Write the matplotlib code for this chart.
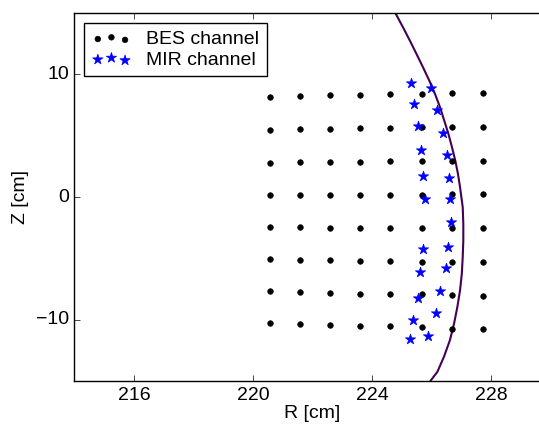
import matplotlib
matplotlib.use("Agg")
import matplotlib.pyplot as plt

# BES channel grid (8 columns x 8 rows), R in cm
bes_r_cols = [220.57, 221.58, 222.59, 223.60, 224.61, 225.67, 226.70, 227.72]
bes_z_rows = [
    [8.17, 8.25, 8.28, 8.33, 8.36, 8.41, 8.47, 8.50],
    [5.49, 5.54, 5.54, 5.59, 5.59, 5.67, 5.73, 5.73],
    [2.80, 2.86, 2.86, 2.86, 2.91, 2.94, 2.97, 2.97],
    [0.18, 0.18, 0.18, 0.18, 0.18, 0.18, 0.23, 0.23],
    [-2.46, -2.46, -2.50, -2.50, -2.50, -2.50, -2.50, -2.50],
    [-5.08, -5.14, -5.14, -5.19, -5.19, -5.27, -5.27, -5.33],
    [-7.68, -7.74, -7.79, -7.87, -7.87, -7.93, -8.01, -8.07],
    [-10.26, -10.37, -10.45, -10.50, -10.55, -10.63, -10.75, -10.80],
]

# MIR channels
mir_r = [225.30, 225.97, 225.42, 226.17, 225.56, 226.38, 225.64, 226.52,
         225.70, 226.59, 225.77, 226.63, 226.65, 225.70, 226.56, 225.63,
         226.48, 225.54, 226.30, 225.38, 226.14, 225.28, 225.87]
mir_z = [9.28, 8.88, 7.58, 7.09, 5.76, 5.24, 3.84, 3.43,
         1.72, 1.56, -0.18, -0.18, -2.07, -4.27, -4.07, -6.14,
         -5.80, -8.20, -7.68, -10.00, -9.43, -11.61, -11.32]

# separatrix trace
sep_r = [224.45, 224.81, 225.05, 225.28, 225.50, 225.72, 225.93, 226.12,
         226.29, 226.43, 226.57, 226.69, 226.80, 226.89, 226.96, 227.05,
         227.07, 227.07, 227.05, 227.02, 226.96, 226.87, 226.76, 226.62,
         226.42, 226.20, 225.97, 225.52]
sep_z = [16.5, 14.89, 13.80, 12.72, 11.64, 10.55, 9.47, 8.39,
         7.30, 6.22, 5.14, 4.05, 2.97, 1.89, 0.80, -0.83,
         -2.18, -3.54, -4.89, -6.24, -7.60, -8.96, -10.31, -11.67,
         -13.02, -14.24, -14.98, -16.5]

plt.style.use('classic')
plt.rcParams['font.family'] = ['Liberation Sans', 'DejaVu Sans']
plt.rcParams['font.size'] = 14

bes_r = [r for row in bes_z_rows for r in bes_r_cols]
bes_z = [z for row in bes_z_rows for z in row]

fig = plt.figure(figsize=(5.39, 4.25), dpi=100)
ax = fig.add_axes([0.1382, 0.1035, 0.8831, 0.8659])

ax.plot(sep_r, sep_z, color='#440154', linewidth=1.5, zorder=1)
ax.scatter(bes_r, bes_z, s=16, c='k', edgecolors='k', linewidths=0.5,
           label='BES channel', zorder=2)
ax.scatter(mir_r, mir_z, s=60, c='b', marker='*', edgecolors='b', linewidths=0.5,
           label='MIR channel', zorder=3)

ax.set_xlim(214, 230)
ax.set_ylim(-15, 15)
ax.set_xticks([216, 220, 224, 228])
ax.set_yticks([-10, 0, 10])
ax.set_xlabel('R [cm]', labelpad=1)
ax.set_ylabel('Z [cm]')
ax.legend(loc='upper left', fontsize=14, labelspacing=0.15)

fig.savefig('out.png', dpi=100)
